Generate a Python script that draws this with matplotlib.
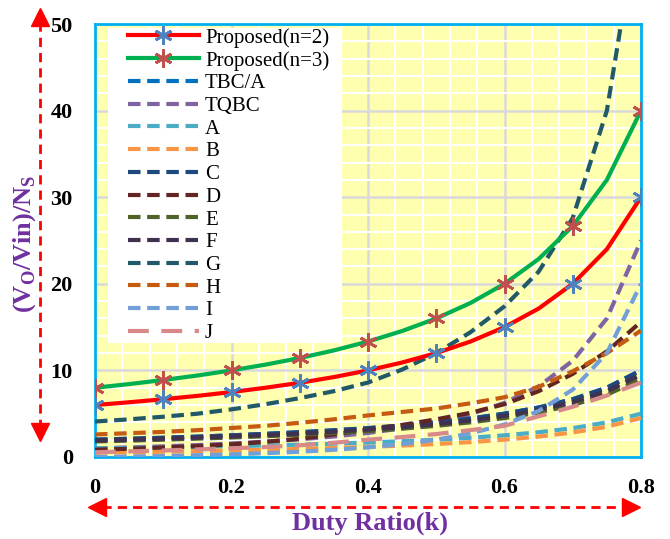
import numpy as np
import matplotlib
matplotlib.use("Agg")
import matplotlib.pyplot as plt
from matplotlib.lines import Line2D
from matplotlib.patches import Rectangle
from matplotlib.ticker import MultipleLocator

plt.rcParams['font.family'] = 'Liberation Serif'
plt.rcParams['mathtext.fontset'] = 'custom'
plt.rcParams['mathtext.rm'] = 'Liberation Serif:bold'
plt.rcParams['mathtext.bf'] = 'Liberation Serif:bold'

# duty ratio values (k)
k = [0, 0.05, 0.1, 0.15, 0.2, 0.25, 0.3, 0.35, 0.4, 0.45, 0.5, 0.55, 0.6, 0.65, 0.7, 0.75, 0.8]

# gains
prop_n2 = [6, 6.32, 6.67, 7.06, 7.5, 8.0, 8.57, 9.23, 10, 10.91, 12, 13.33, 15, 17.14, 20, 24, 30]
prop_n3 = [8, 8.42, 8.89, 9.41, 10, 10.67, 11.43, 12.31, 13.33, 14.55, 16, 17.78, 20, 22.86, 26.67, 32, 40]
tbc_a = [2, 2.11, 2.22, 2.35, 2.5, 2.67, 2.86, 3.08, 3.33, 3.64, 4, 4.44, 5, 5.71, 6.67, 8, 10]
tqbc = [1, 1.11, 1.23, 1.38, 1.56, 1.78, 2.04, 2.37, 2.78, 3.31, 4, 4.94, 6.25, 8.16, 11.11, 16, 25]
conv_a = [1, 1.05, 1.11, 1.18, 1.25, 1.33, 1.43, 1.54, 1.67, 1.82, 2, 2.22, 2.5, 2.86, 3.33, 4, 5]
conv_b = [0.5, 0.55, 0.61, 0.68, 0.75, 0.83, 0.93, 1.04, 1.17, 1.32, 1.5, 1.72, 2.0, 2.36, 2.83, 3.5, 4.5]
conv_c = [2, 2.11, 2.22, 2.35, 2.5, 2.67, 2.86, 3.08, 3.33, 3.64, 4, 4.44, 5, 5.71, 6.67, 8, 10]
conv_d = [0.85, 0.95, 1.1, 1.25, 1.45, 1.75, 2.1, 2.6, 3.15, 3.7, 4.35, 5.1, 6.1, 7.6, 9.6, 12.2, 15.6]
conv_e = [1.8, 1.89, 2.0, 2.12, 2.25, 2.4, 2.57, 2.77, 3.0, 3.27, 3.6, 4.0, 4.5, 5.14, 6.0, 7.2, 9.0]
conv_f = [1.9, 2.0, 2.11, 2.24, 2.38, 2.53, 2.71, 2.92, 3.17, 3.45, 3.8, 4.22, 4.75, 5.43, 6.33, 7.6, 9.5]
conv_g = [4.1, 4.35, 4.65, 5.0, 5.5, 6.1, 6.8, 7.6, 8.6, 10.1, 12.0, 14.4, 17.4, 21.4, 27.6, 40, 64]
conv_h = [2.6, 2.75, 2.9, 3.1, 3.35, 3.6, 3.95, 4.35, 4.8, 5.2, 5.6, 6.2, 6.9, 8.1, 9.9, 12.0, 14.6]
conv_i = [0, 0.06, 0.12, 0.21, 0.31, 0.44, 0.61, 0.83, 1.11, 1.49, 2, 2.72, 3.75, 5.31, 7.78, 12, 20]
conv_j = [0.55, 0.65, 0.75, 0.88, 1.0, 1.15, 1.35, 1.65, 2.0, 2.3, 2.65, 3.1, 3.6, 4.7, 5.8, 7.1, 8.6]

xticks = [0, 0.2, 0.4, 0.6, 0.8]
yticks = [0, 10, 20, 30, 40, 50]

dashed = [
    ("TBC/A", tbc_a, "#0070C0"),
    ("TQBC", tqbc, "#8064A2"),
    ("A", conv_a, "#4BACC6"),
    ("B", conv_b, "#F79646"),
    ("C", conv_c, "#1F497D"),
    ("D", conv_d, "#632523"),
    ("E", conv_e, "#4F6228"),
    ("F", conv_f, "#403151"),
    ("G", conv_g, "#215968"),
    ("H", conv_h, "#C55A11"),
    ("I", conv_i, "#739FD8"),
]

fig = plt.figure(figsize=(6.7, 5.39), dpi=100)
ax = fig.add_axes([95/670, 1-457/539, 546/670, 433/539])
ax.set_facecolor("#FFFFB0")

# grid
ax.xaxis.set_major_locator(MultipleLocator(0.2))
ax.xaxis.set_minor_locator(MultipleLocator(0.04))
ax.yaxis.set_major_locator(MultipleLocator(10))
ax.yaxis.set_minor_locator(MultipleLocator(2))
ax.grid(which='minor', color='white', lw=1.5, zorder=0)
ax.grid(which='major', color='#D9D9D9', lw=1.8, zorder=0)
ax.set_axisbelow(True)

# legend background box
ax.add_patch(Rectangle((13/546, 114/433), 234/546, 315/433, transform=ax.transAxes,
                       facecolor='white', edgecolor='none', zorder=1))

ax.plot(k, prop_n2, color='red', lw=3, marker=(6, 2, 0), markevery=2, ms=13,
        mec='#4F81BD', mew=2, label='Proposed(n=2)', zorder=4)
ax.plot(k, prop_n3, color='#00B050', lw=3, marker=(6, 2, 0), markevery=2, ms=13,
        mec='#C0504D', mew=2, label='Proposed(n=3)', zorder=4)
for name, vals, col in dashed:
    ax.plot(k, vals, color=col, lw=3, dashes=(3, 1.6), label=name, zorder=3)
ax.plot(k, conv_j, color='#D88A8A', lw=3, dashes=(5, 3), label='J', zorder=3)

ax.set_xlim(0, 0.8)
ax.set_ylim(0, 50)
ax.set_xticks(xticks)
ax.set_xticklabels(['0', '0.2', '0.4', '0.6', '0.8'])
ax.set_yticks(yticks)
ax.tick_params(which='both', length=0)
ax.tick_params(axis='y', pad=16, labelsize=16)
ax.tick_params(axis='x', pad=15, labelsize=16)
for t in ax.get_xticklabels() + ax.get_yticklabels():
    t.set_fontweight('bold')

for s in ax.spines.values():
    s.set_color('#00B0F0')
    s.set_linewidth(2)

leg = ax.legend(loc='upper left', bbox_to_anchor=(33/546, 429/433), frameon=False,
                fontsize=15, handlelength=3.4, handletextpad=0.3, labelspacing=0.15,
                borderpad=0, borderaxespad=0, numpoints=1)
leg.set_zorder(5)

# axis titles
fig.text(25/670, 1-244/539, r'(V$_{\rm O}$/Vin)/N$_{\rm S}$', rotation=90, ha='center', va='center',
         color='#7030A0', fontsize=19, fontweight='bold')
fig.text(370/670, 1-523/539, 'Duty Ratio(k)', ha='center', va='center',
         color='#7030A0', fontsize=19, fontweight='bold')

# red dashed double arrows
def fx(x):
    return x / 670

def fy(y):
    return 1 - y / 539

dash = (0, (3.3, 2.2))
fig.add_artist(Line2D([fx(40), fx(40)], [fy(22), fy(428)], transform=fig.transFigure,
                      color='red', lw=2, ls=dash))
fig.add_artist(Line2D([fx(40)], [fy(17)], transform=fig.transFigure, marker='^',
                      ms=13, color='red', mec='red'))
fig.add_artist(Line2D([fx(40)], [fy(432)], transform=fig.transFigure, marker='v',
                      ms=13, color='red', mec='red'))
fig.add_artist(Line2D([fx(102), fx(626)], [fy(507), fy(507)], transform=fig.transFigure,
                      color='red', lw=2, ls=dash))
fig.add_artist(Line2D([fx(97)], [fy(507)], transform=fig.transFigure, marker='<',
                      ms=13, color='red', mec='red'))
fig.add_artist(Line2D([fx(631)], [fy(507)], transform=fig.transFigure, marker='>',
                      ms=13, color='red', mec='red'))

fig.savefig("out.png", dpi=100)
